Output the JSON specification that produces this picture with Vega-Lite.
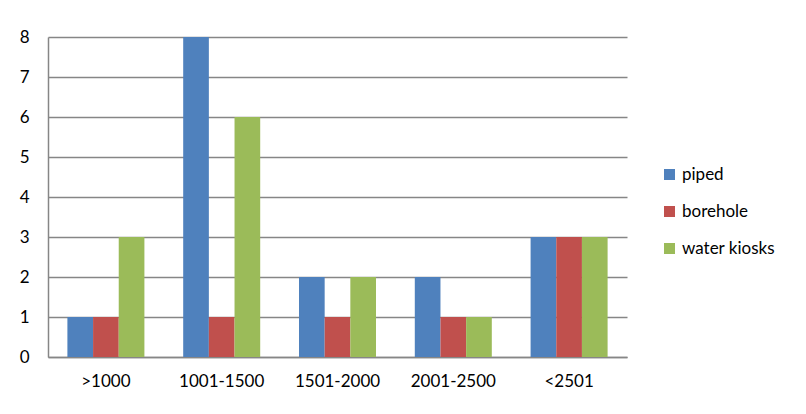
{
  "$schema": "https://vega.github.io/schema/vega-lite/v6.json",
  "autosize": {"type": "none"},
  "width": 579,
  "height": 320,
  "padding": {"left": 48, "top": 37, "right": 179, "bottom": 57},
  "background": "white",
  "data": {
    "values": [
      {"range": ">1000", "source": "piped", "count": 1},
      {"range": ">1000", "source": "borehole", "count": 1},
      {"range": ">1000", "source": "water kiosks", "count": 3},
      {"range": "1001-1500", "source": "piped", "count": 8},
      {"range": "1001-1500", "source": "borehole", "count": 1},
      {"range": "1001-1500", "source": "water kiosks", "count": 6},
      {"range": "1501-2000", "source": "piped", "count": 2},
      {"range": "1501-2000", "source": "borehole", "count": 1},
      {"range": "1501-2000", "source": "water kiosks", "count": 2},
      {"range": "2001-2500", "source": "piped", "count": 2},
      {"range": "2001-2500", "source": "borehole", "count": 1},
      {"range": "2001-2500", "source": "water kiosks", "count": 1},
      {"range": "<2501", "source": "piped", "count": 3},
      {"range": "<2501", "source": "borehole", "count": 3},
      {"range": "<2501", "source": "water kiosks", "count": 3}
    ]
  },
  "mark": {"type": "bar"},
  "encoding": {
    "x": {
      "field": "range",
      "type": "nominal",
      "sort": [">1000", "1001-1500", "1501-2000", "2001-2500", "<2501"],
      "scale": {"paddingInner": 0.335, "paddingOuter": 0.1675},
      "axis": {
        "title": null,
        "labelAngle": 0,
        "ticks": false,
        "domain": true,
        "domainColor": "#868686",
        "domainWidth": 1.5,
        "labelPadding": 16,
        "labelFont": "Lato",
        "labelFontSize": 17,
        "labelColor": "#000000"
      }
    },
    "xOffset": {
      "field": "source",
      "type": "nominal",
      "sort": ["piped", "borehole", "water kiosks"],
      "scale": {"paddingInner": 0, "paddingOuter": 0}
    },
    "y": {
      "field": "count",
      "type": "quantitative",
      "scale": {"domain": [0, 8], "nice": false},
      "axis": {
        "title": null,
        "values": [0, 1, 2, 3, 4, 5, 6, 7, 8],
        "ticks": false,
        "domain": true,
        "domainColor": "#868686",
        "domainWidth": 1.5,
        "grid": true,
        "gridColor": "#868686",
        "gridWidth": 1.5,
        "labelPadding": 19,
        "labelFont": "Lato",
        "labelFontSize": 17,
        "labelColor": "#000000"
      }
    },
    "color": {
      "field": "source",
      "type": "nominal",
      "sort": ["piped", "borehole", "water kiosks"],
      "scale": {
        "domain": ["piped", "borehole", "water kiosks"],
        "range": ["#4F81BD", "#C0504D", "#9BBB59"]
      },
      "legend": {
        "title": null,
        "orient": "none",
        "legendX": 613,
        "legendY": 129,
        "padding": 0,
        "symbolType": "square",
        "symbolSize": 121,
        "symbolStrokeWidth": 0,
        "labelFont": "Lato",
        "labelFontSize": 17,
        "labelColor": "#000000",
        "labelOffset": 4,
        "rowPadding": 19
      }
    }
  },
  "config": {
    "view": {"stroke": null}
  }
}
